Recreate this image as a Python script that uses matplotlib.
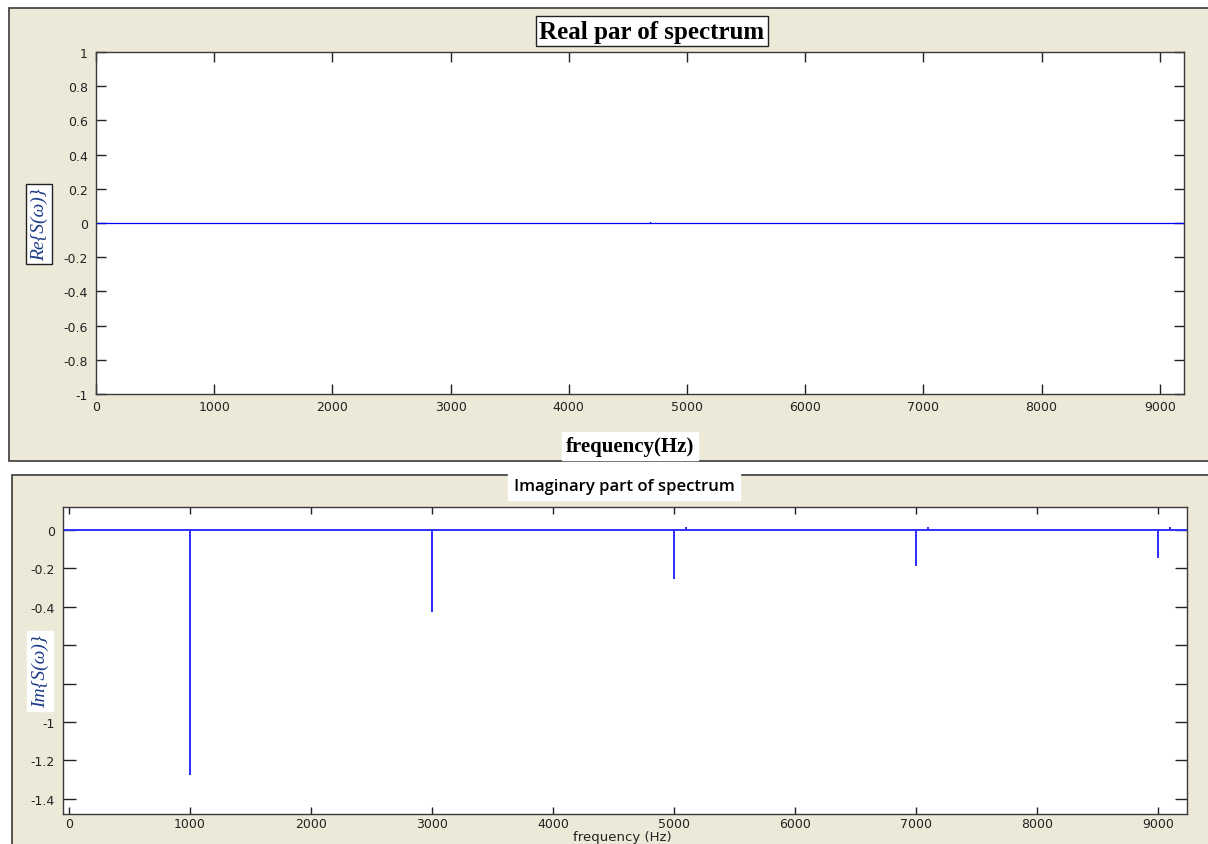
import numpy as np
import matplotlib
matplotlib.use("Agg")
import matplotlib.pyplot as plt
from matplotlib.patches import Rectangle

# spectrum lines (Hz) and their values
re_freq = [4690]
re_val = [0.004]
f_max_re = 9205

im_freq = [1000, 3000, 5000, 5100, 7000, 7100, 9000, 9100]
im_val = [-1.27, -0.42, -0.25, 0.01, -0.18, 0.01, -0.14, 0.01]
f_min_im = -50
f_max_im = 9240

x_ticks = [0, 1000, 2000, 3000, 4000, 5000, 6000, 7000, 8000, 9000]
re_yticks = [-1, -0.8, -0.6, -0.4, -0.2, 0, 0.2, 0.4, 0.6, 0.8, 1]
im_yticks = [-1.4, -1.2, -1, -0.8, -0.6, -0.4, -0.2, 0]
im_hidden = [-0.8, -0.6]  # sit under the y label box

W, H = 1208, 845
bg = "#ECE9D8"
edge = "#3a3a3a"


def spikes(fr, vals, f0, f1):
    # zero baseline with a vertical stroke at every line
    xs, ys = [f0], [0.0]
    for f, v in sorted(zip(fr, vals)):
        xs += [f, f, f]
        ys += [0.0, v, 0.0]
    xs.append(f1)
    ys.append(0.0)
    return np.array(xs), np.array(ys)


def box(l, t, r, b):
    return [l / W, 1 - b / H, (r - l) / W, (b - t) / H]


def fmt(v):
    s = ("%.1f" % v).rstrip("0").rstrip(".")
    return "0" if s in ("-0", "0") else s


fig = plt.figure(figsize=(W / 100, H / 100), dpi=100)
fig.patch.set_facecolor("white")

# window panels
for (l, t, r, b) in [(9, 9, 1215, 462), (12, 476, 1215, 852)]:
    fig.patches.append(Rectangle((l / W, 1 - b / H), (r - l) / W, (b - t) / H,
                                 transform=fig.transFigure, facecolor=bg,
                                 edgecolor=edge, lw=1.2, zorder=-5))

ax1 = fig.add_axes(box(96, 53, 1184, 395))
ax2 = fig.add_axes(box(63, 508, 1187, 815))

x1, y1 = spikes(re_freq, re_val, 0, f_max_re)
ax1.plot(x1, y1, color="#0000ff", lw=0.9)
ax1.set_xlim(0, f_max_re)
ax1.set_ylim(-1, 1)
ax1.set_yticks(re_yticks)
ax1.set_yticklabels([fmt(v) for v in re_yticks])

x2, y2 = spikes(im_freq, im_val, f_min_im, f_max_im)
ax2.plot(x2, y2, color="#3030ff", lw=1.4)
ax2.set_xlim(f_min_im, f_max_im)
ax2.set_ylim(-1.48, 0.12)
ax2.set_yticks(im_yticks)
ax2.set_yticklabels(["" if v in im_hidden else fmt(v) for v in im_yticks])

for ax, ylen, xlen, xpad in [(ax1, 7, 7, 4), (ax2, 9, 5, 2)]:
    ax.set_facecolor("white")
    ax.set_xticks(x_ticks)
    ax.tick_params(axis="both", direction="in", top=True, right=True,
                   labelsize=9, colors="#222222", width=1)
    ax.tick_params(axis="y", length=ylen, pad=6)
    ax.tick_params(axis="x", length=xlen, pad=xpad)
    for s in ax.spines.values():
        s.set_color(edge)
        s.set_linewidth(1)

# top panel labels
fig.text(652 / W, 1 - 32 / H, "Real par of spectrum", ha="center", va="center",
         family="Liberation Serif", weight="bold", fontsize=18,
         bbox=dict(facecolor="white", edgecolor="#222222", pad=2.5, lw=1))
fig.text(630 / W, 1 - 447 / H, "frequency(Hz)", ha="center", va="center",
         family="Liberation Serif", weight="bold", fontsize=15,
         bbox=dict(facecolor="white", edgecolor="white", pad=2.5))
fig.text(39 / W, 1 - 225 / H, "Re{S(ω)}", ha="center", va="center", rotation=90,
         family=["Liberation Serif", "DejaVu Serif"], style="italic", fontsize=14,
         color="#1c3c88",
         bbox=dict(facecolor="white", edgecolor="#222222", pad=3, lw=1))

# bottom panel labels
fig.text(624 / W, 1 - 487 / H, "Imaginary part of spectrum", ha="center", va="center",
         family=["Open Sans", "DejaVu Sans"], weight="semibold", fontsize=12,
         bbox=dict(facecolor="white", edgecolor="white", pad=4))
fig.text(622 / W, 1 - 838 / H, "frequency (Hz)", ha="center", va="center",
         family="DejaVu Sans", fontsize=9.5, color="#222222")
fig.text(40 / W, 1 - 672 / H, "Im{S(ω)}", ha="center", va="center", rotation=90,
         family=["Liberation Serif", "DejaVu Serif"], style="italic", fontsize=14,
         color="#1c3c88",
         bbox=dict(facecolor="white", edgecolor="white", pad=3))

fig.savefig("out.png", dpi=100)
